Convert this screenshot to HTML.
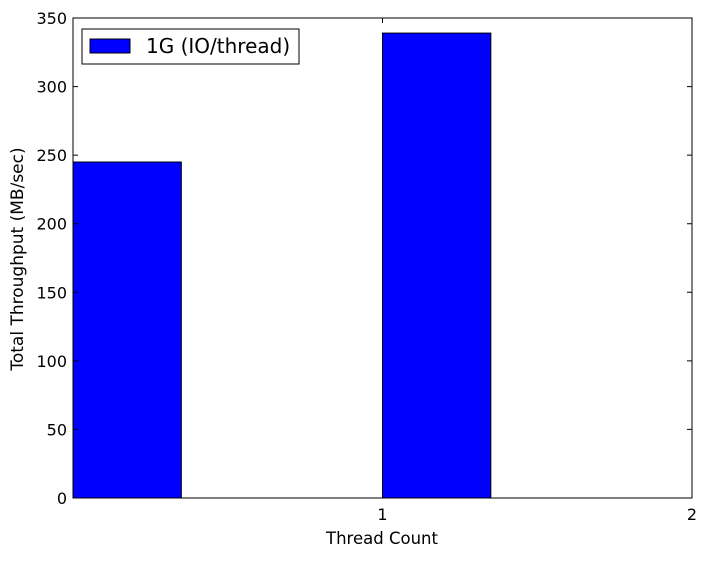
<!DOCTYPE html>
<html><head><meta charset="utf-8"><style>
body{margin:0;background:#fff;}
svg text{font-family:"DejaVu Sans","Liberation Sans",sans-serif;}
</style></head><body>
<svg id="chart" width="707" height="557" viewBox="0 0 707 557" xmlns="http://www.w3.org/2000/svg">
<rect width="707" height="557" fill="#fff"/>
<g id="bars"></g>
<rect x="73" y="18" width="619" height="480" fill="none" stroke="#000" stroke-width="1"/>
<g id="yticks"></g>
<g id="xticks"></g>
<text x="382" y="544" font-size="16.5" text-anchor="middle">Thread Count</text>
<text transform="translate(23,259) rotate(-90)" font-size="17" text-anchor="middle">Total Throughput (MB/sec)</text>
<g>
<rect x="82" y="29" width="217" height="35" fill="#fff" stroke="#000"/>
<rect x="90" y="39" width="40" height="14" fill="#0000ff" stroke="#000"/>
<text x="146" y="53" font-size="20">1G (IO/thread)</text>
</g>
</svg>
<script>
const categories=[0,1];
const values=[245,339];
const barWidth=0.35;
const yTicks=[0,50,100,150,200,250,300,350];
const xTicks=[1,2];
const x0=73,x1=692,y0=498,y1=18;
const xs=v=>x0+(v/2)*(x1-x0);
const ys=v=>y0-(v/350)*(y0-y1);
const NS="http://www.w3.org/2000/svg";
const bars=document.getElementById('bars');
categories.forEach((c,i)=>{
 const r=document.createElementNS(NS,'rect');
 
 
 r.setAttribute('x',xs(c));r.setAttribute('width',xs(c+barWidth)-xs(c));
 r.setAttribute('y',ys(values[i]));r.setAttribute('height',y0-ys(values[i]));
 r.setAttribute('fill','#0000ff');r.setAttribute('stroke','#000');
 bars.appendChild(r);
});
const yt=document.getElementById('yticks');
yTicks.forEach(t=>{
 const y=ys(t);
 const l=document.createElementNS(NS,'path');
 
 
 l.setAttribute('d',`M${x0} ${y}h5M${x1} ${y}h-5`);l.setAttribute('stroke','#000');
 yt.appendChild(l);
 const tx=document.createElementNS(NS,'text');
 
 
 tx.setAttribute('x',x0-6);tx.setAttribute('y',y+6);tx.setAttribute('font-size','16');tx.setAttribute('text-anchor','end');
 tx.textContent=t;yt.appendChild(tx);
});
const xt=document.getElementById('xticks');
xTicks.forEach(t=>{
 const x=xs(t);
 const l=document.createElementNS(NS,'path');
 
 
 l.setAttribute('d',`M${x} ${y0}v-5M${x} ${y1}v5`);l.setAttribute('stroke','#000');
 xt.appendChild(l);
 const tx=document.createElementNS(NS,'text');
 
 
 tx.setAttribute('x',x);tx.setAttribute('y',y0+22);tx.setAttribute('font-size','16');tx.setAttribute('text-anchor','middle');
 tx.textContent=t;xt.appendChild(tx);
});
</script>
</body></html>
